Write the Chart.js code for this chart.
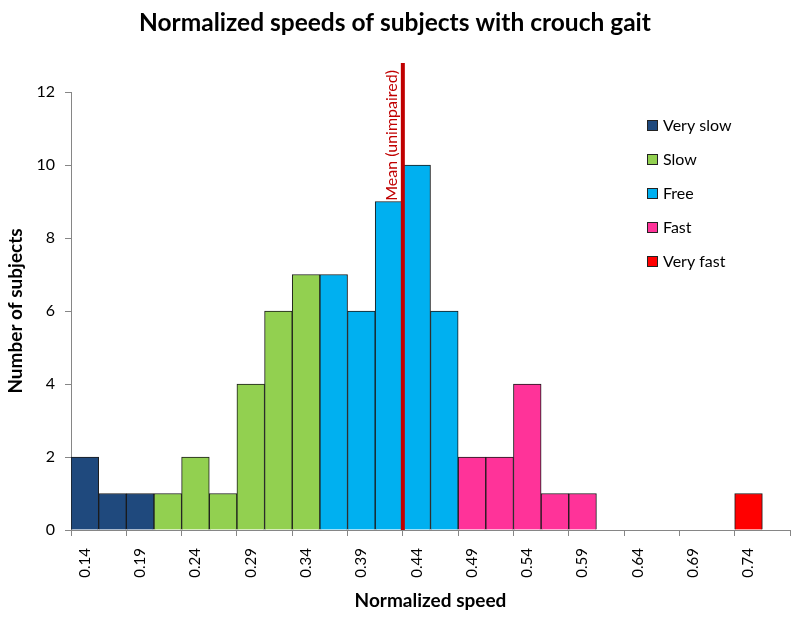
<!DOCTYPE html>
<html>
<head>
<meta charset="utf-8">
<script src="https://cdn.jsdelivr.net/npm/chart.js@4/dist/chart.umd.min.js"></script>
<style>
  html, body { margin: 0; padding: 0; background: #fff; }
  #wrap { width: 800px; height: 618px; }
</style>
</head>
<body>
<div id="wrap"><canvas id="myChart" width="800" height="618"></canvas></div>
<script>
// bins (centre of each speed bin), every other one is labelled
var categories = ["0.14", "0.165", "0.19", "0.215", "0.24", "0.265", "0.29", "0.315", "0.34",
  "0.365", "0.39", "0.415", "0.44", "0.465", "0.49", "0.515", "0.54", "0.565", "0.59",
  "0.615", "0.64", "0.665", "0.69", "0.715", "0.74", "0.765"];
var firstBin = 0.14;
var binWidth = 0.025;

// number of subjects per bin, split by speed class
var verySlow = [2, 1, 1, null, null, null, null, null, null, null, null, null, null,
  null, null, null, null, null, null, null, null, null, null, null, null, null];
var slow = [null, null, null, 1, 2, 1, 4, 6, 7, null, null, null, null,
  null, null, null, null, null, null, null, null, null, null, null, null, null];
var free = [null, null, null, null, null, null, null, null, null, 7, 6, 9, 10,
  6, null, null, null, null, null, null, null, null, null, null, null, null];
var fast = [null, null, null, null, null, null, null, null, null, null, null, null, null,
  null, 2, 2, 4, 1, 1, null, null, null, null, null, null, null];
var veryFast = [null, null, null, null, null, null, null, null, null, null, null, null, null,
  null, null, null, null, null, null, null, null, null, null, null, 1, null];

var meanSpeed = 0.4275; // mean of unimpaired subjects
var yTicks = [0, 2, 4, 6, 8, 10, 12];

var FONT = "Lato, 'Open Sans', sans-serif";
var AXIS = "#868686";

// mean line + its label
var meanLine = {
  id: "meanLine",
  afterDatasetsDraw: function (chart) {
    var ctx = chart.ctx;
    var xs = chart.scales.x, ys = chart.scales.y;
    var step = xs.getPixelForValue(1) - xs.getPixelForValue(0);
    var x = xs.getPixelForValue(0) + (meanSpeed - firstBin) / binWidth * step;
    ctx.save();
    ctx.strokeStyle = "#C00000";
    ctx.lineWidth = 4;
    ctx.beginPath();
    ctx.moveTo(x, chart.chartArea.top - 29);
    ctx.lineTo(x, ys.getPixelForValue(0));
    ctx.stroke();
    ctx.translate(x - 3, 70);
    ctx.rotate(-Math.PI / 2);
    ctx.fillStyle = "#C00000";
    ctx.font = "16px " + FONT;
    ctx.textAlign = "right";
    ctx.textBaseline = "bottom";
    ctx.fillText("Mean (unimpaired)", 0, 0);
    ctx.restore();
  }
};

// legend drawn inside the plot, like the original
var insideLegend = {
  id: "insideLegend",
  afterDatasetsDraw: function (chart) {
    var ctx = chart.ctx;
    ctx.save();
    ctx.font = "16px " + FONT;
    ctx.textBaseline = "middle";
    chart.data.datasets.forEach(function (ds, i) {
      var y = 125 + i * 34;
      ctx.fillStyle = ds.backgroundColor;
      ctx.fillRect(647, y - 5, 10, 10);
      ctx.strokeStyle = "#222";
      ctx.lineWidth = 1;
      ctx.strokeRect(647.5, y - 4.5, 10, 10);
      ctx.fillStyle = "#000";
      ctx.fillText(ds.label, 663, y + 1);
    });
    ctx.restore();
  }
};

function makeSet(label, data, color) {
  return {
    label: label,
    data: data,
    backgroundColor: color,
    borderColor: "#1a1a1a",
    borderWidth: 1,
    borderSkipped: "bottom",
    barPercentage: 1,
    categoryPercentage: 1
  };
}

var ctx = document.getElementById("myChart").getContext("2d");
var myChart = new Chart(ctx, {
  type: "bar",
  data: {
    labels: categories,
    datasets: [
      makeSet("Very slow", verySlow, "#1F497D"),
      makeSet("Slow", slow, "#92D050"),
      makeSet("Free", free, "#00B0F0"),
      makeSet("Fast", fast, "#FF3399"),
      makeSet("Very fast", veryFast, "#FF0000")
    ]
  },
  options: {
    responsive: false,
    animation: false,
    layout: { padding: { left: 0, right: 10, top: 0, bottom: 0 } },
    plugins: {
      legend: { display: false },
      tooltip: { enabled: false },
      title: {
        display: true,
        text: "Normalized speeds of subjects with crouch gait",
        color: "#000",
        font: { family: FONT, size: 24.5, weight: "bold" },
        padding: { top: 8, bottom: 54.6 }
      }
    },
    scales: {
      x: {
        stacked: true,
        afterFit: function (scale) {
          scale.height = 88;
          scale.paddingLeft = 0;
          scale.paddingRight = 0;
        },
        border: { color: AXIS, width: 1 },
        grid: {
          offset: true,
          drawOnChartArea: false,
          tickLength: 6,
          tickColor: function (c) {
            return (c.index === undefined || c.index % 2 === 0) ? AXIS : "rgba(0,0,0,0)";
          }
        },
        ticks: {
          autoSkip: false,
          minRotation: 90,
          maxRotation: 90,
          padding: 12,
          color: "#000",
          font: { family: FONT, size: 15 },
          callback: function (v, i) { return i % 2 === 0 ? categories[i] : ""; }
        },
        title: {
          display: true,
          text: "Normalized speed",
          color: "#000",
          font: { family: FONT, size: 19, weight: "bold" },
          padding: { top: 0, bottom: 5.6 }
        }
      },
      y: {
        stacked: true,
        min: 0,
        max: 12,
        afterFit: function (scale) { scale.width = 71; },
        afterBuildTicks: function (scale) {
          scale.ticks = yTicks.map(function (v) { return { value: v }; });
        },
        border: { color: AXIS, width: 1 },
        grid: { drawOnChartArea: false, tickLength: 6, tickColor: AXIS },
        ticks: {
          padding: 10,
          color: "#000",
          font: { family: FONT, size: 16 }
        },
        title: {
          display: true,
          text: "Number of subjects",
          color: "#000",
          font: { family: FONT, size: 19, weight: "bold" },
          padding: { top: 4, bottom: 0 }
        }
      }
    }
  },
  plugins: [meanLine, insideLegend]
});
</script>
</body>
</html>
